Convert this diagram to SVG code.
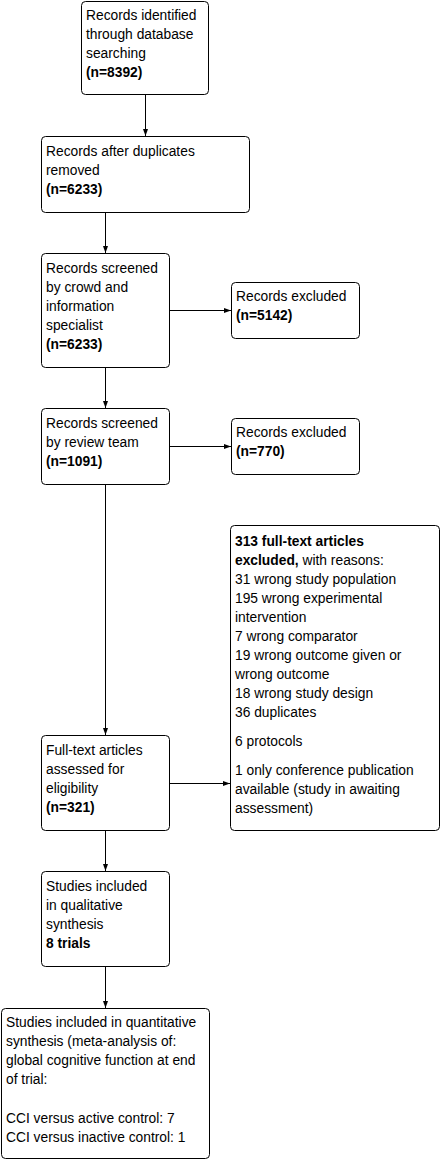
<svg xmlns="http://www.w3.org/2000/svg" width="441" height="1160" viewBox="0 0 441 1160">
<style>
.box{fill:#fff;stroke:#000;stroke-width:1}
.t{font-family:"Liberation Sans",Arial,sans-serif;font-size:13.8px;fill:#000}
.b{font-weight:bold}
.c{stroke:#000;stroke-width:1;fill:none;marker-end:url(#ah)}
</style>
<defs>
<marker id="ah" markerUnits="userSpaceOnUse" markerWidth="8" markerHeight="8" refX="7" refY="4" orient="auto">
<path d="M0,1.5 L7,4 L0,6.5 Z" fill="#000"/>
</marker>
</defs>
<rect width="441" height="1160" fill="#fff"/>
<g id="connectors">
<line class="c" x1="145.5" y1="95" x2="145.5" y2="136"/>
<line class="c" x1="105.5" y1="212" x2="105.5" y2="253"/>
<line class="c" x1="170" y1="310.5" x2="231" y2="310.5"/>
<line class="c" x1="105.5" y1="367" x2="105.5" y2="408"/>
<line class="c" x1="170" y1="446.5" x2="231" y2="446.5"/>
<line class="c" x1="105.5" y1="484" x2="105.5" y2="735"/>
<line class="c" x1="170" y1="783.5" x2="230" y2="783.5"/>
<line class="c" x1="105.5" y1="830" x2="105.5" y2="871"/>
<line class="c" x1="105.5" y1="966" x2="105.5" y2="1008"/>
</g>
<g id="n1">
<rect class="box" x="81.5" y="1.5" width="127" height="93" rx="4"/>
<text class="t" x="86" y="20">Records identified</text>
<text class="t" x="86" y="39">through database</text>
<text class="t" x="86" y="58">searching</text>
<text class="t b" x="86" y="77">(n=8392)</text>
</g>
<g id="n2">
<rect class="box" x="41.5" y="136.5" width="208" height="76" rx="4"/>
<text class="t" x="46" y="156">Records after duplicates</text>
<text class="t" x="46" y="175">removed</text>
<text class="t b" x="46" y="194">(n=6233)</text>
</g>
<g id="n3">
<rect class="box" x="41.5" y="253.5" width="128" height="114" rx="4"/>
<text class="t" x="46" y="273">Records screened</text>
<text class="t" x="46" y="292">by crowd and</text>
<text class="t" x="46" y="311">information</text>
<text class="t" x="46" y="330">specialist</text>
<text class="t b" x="46" y="349">(n=6233)</text>
</g>
<g id="n3x">
<rect class="box" x="231.5" y="282.5" width="128" height="56" rx="4"/>
<text class="t" x="236" y="301">Records excluded</text>
<text class="t b" x="236" y="320">(n=5142)</text>
</g>
<g id="n4">
<rect class="box" x="41.5" y="408.5" width="128" height="76" rx="4"/>
<text class="t" x="46" y="428">Records screened</text>
<text class="t" x="46" y="447">by review team</text>
<text class="t b" x="46" y="466">(n=1091)</text>
</g>
<g id="n4x">
<rect class="box" x="231.5" y="418.5" width="128" height="56" rx="4"/>
<text class="t" x="236" y="437">Records excluded</text>
<text class="t b" x="236" y="456">(n=770)</text>
</g>
<g id="n5x">
<rect class="box" x="230.5" y="525.5" width="209" height="305" rx="4"/>
<text class="t b" x="235" y="546">313 full-text articles</text>
<text class="t" x="235" y="565"><tspan class="b">excluded,</tspan> with reasons:</text>
<text class="t" x="235" y="584">31 wrong study population</text>
<text class="t" x="235" y="603">195 wrong experimental</text>
<text class="t" x="235" y="622">intervention</text>
<text class="t" x="235" y="641">7 wrong comparator</text>
<text class="t" x="235" y="660">19 wrong outcome given or</text>
<text class="t" x="235" y="679">wrong outcome</text>
<text class="t" x="235" y="698">18 wrong study design</text>
<text class="t" x="235" y="717">36 duplicates</text>
<text class="t" x="235" y="746">6 protocols</text>
<text class="t" x="235" y="775">1 only conference publication</text>
<text class="t" x="235" y="794">available (study in awaiting</text>
<text class="t" x="235" y="813">assessment)</text>
</g>
<g id="n5">
<rect class="box" x="41.5" y="735.5" width="128" height="95" rx="4"/>
<text class="t" x="46" y="755">Full-text articles</text>
<text class="t" x="46" y="774">assessed for</text>
<text class="t" x="46" y="793">eligibility</text>
<text class="t b" x="46" y="812">(n=321)</text>
</g>
<g id="n6">
<rect class="box" x="41.5" y="871.5" width="128" height="95" rx="4"/>
<text class="t" x="46" y="891">Studies included</text>
<text class="t" x="46" y="910">in qualitative</text>
<text class="t" x="46" y="929">synthesis</text>
<text class="t b" x="46" y="948">8 trials</text>
</g>
<g id="n7">
<rect class="box" x="1.5" y="1008.5" width="208" height="150" rx="4"/>
<text class="t" x="6" y="1027">Studies included in quantitative</text>
<text class="t" x="6" y="1046">synthesis (meta-analysis of:</text>
<text class="t" x="6" y="1065">global cognitive function at end</text>
<text class="t" x="6" y="1084">of trial:</text>
<text class="t" x="6" y="1123">CCI versus active control: 7</text>
<text class="t" x="6" y="1142">CCI versus inactive control: 1</text>
</g>
</svg>
